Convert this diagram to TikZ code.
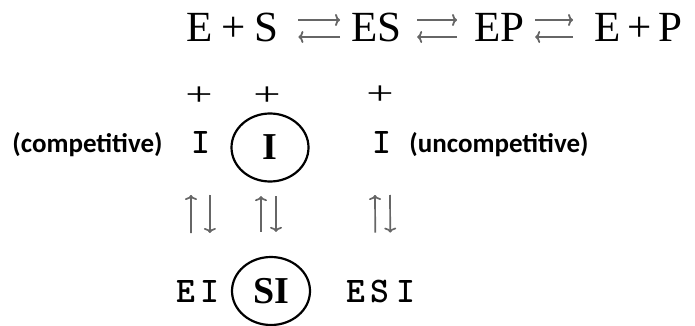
\documentclass[tikz,border=0pt]{standalone}
\usepackage{fontspec}
\newfontfamily\lblfont{Carlito}
\newfontfamily\serfont{Liberation Serif}
\usetikzlibrary{arrows.meta,shapes.geometric}
\begin{document}
\begin{tikzpicture}[x=1pt,y=-1pt,
  txt/.style={inner sep=0pt,outer sep=0pt},
  eqtxt/.style={txt,anchor=base west,font=\serfont\fontsize{43}{50}\selectfont},
  tttxt/.style={txt,font=\ttfamily\bfseries\fontsize{36}{42}\selectfont},
  lbl/.style={txt,font=\lblfont\bfseries\fontsize{27}{32}\selectfont},
  plus/.style={txt,font=\serfont\fontsize{44}{50}\selectfont},
  circ/.style={ellipse,draw,line width=2.2pt,inner sep=0pt,minimum width=77pt,minimum height=68pt,font=\serfont\bfseries\fontsize{38}{44}\selectfont},
  rarr/.style={draw=black!60,line width=1.8pt,-{To[length=5pt,width=12pt]}},
  varr/.style={draw=black!60,line width=1.7pt,-{To[length=5pt,width=12pt]}}]
\useasboundingbox (0,0) rectangle (695,326);
% top equation
\node[eqtxt] (A) at (186,42) {E\hspace{9pt}+\hspace{9pt}S};
\node[eqtxt] (B) at (351,42) {ES};
\node[eqtxt] (C) at (474,42) {EP};
\node[eqtxt] (D) at (594,42) {E\hspace{7pt}+\hspace{7pt}P};
\draw[rarr] ([shift={(20pt,22pt)}]A.base east) -- ([shift={(-11pt,22pt)}]B.base west);
\draw[rarr] ([shift={(-11pt,5pt)}]B.base west) -- ([shift={(20pt,5pt)}]A.base east);
\draw[rarr] ([shift={(16pt,22pt)}]B.base east) -- ([shift={(-17pt,22pt)}]C.base west);
\draw[rarr] ([shift={(-17pt,5pt)}]C.base west) -- ([shift={(16pt,5pt)}]B.base east);
\draw[rarr] ([shift={(11pt,22pt)}]C.base east) -- ([shift={(-21pt,22pt)}]D.base west);
\draw[rarr] ([shift={(-21pt,5pt)}]D.base west) -- ([shift={(11pt,5pt)}]C.base east);
% plus signs
\node[plus] (p1) at (199,96) {\scalebox{1.1}[0.75]{+}};
\node[plus] (p2) at (267,96) {\scalebox{1.1}[0.75]{+}};
\node[plus] (p3) at (380,95) {\scalebox{1.1}[0.75]{+}};
% inhibitor row
\node[lbl] (comp) at (87.5,145) {(competitive)};
\node[tttxt,anchor=base] (it1) at (201,153) {I};
\node[circ] (ci) at (270,147.5) {I};
\node[tttxt,anchor=base] (it2) at (382,153) {I};
\node[lbl] (uncomp) at (499,145) {(uncompetitive)};
% complexes
\node[tttxt,anchor=base west] (ei) at (176,302) {E\hspace{6pt}I};
\node[circ,minimum width=78pt] (si) at (271,291) {SI};
\node[tttxt,anchor=base west] (esi) at (346,302) {E\hspace{6pt}S\hspace{6.5pt}I};
% vertical equilibria
\draw[varr] ([xshift=-7pt,yshift=47pt]ei.north) -- ([xshift=-10pt,yshift=-42pt]it1.south);
\draw[varr] ([xshift=9pt,yshift=-42pt]it1.south) -- ([xshift=12pt,yshift=47pt]ei.north);
\draw[varr] ([xshift=-10pt,yshift=24pt]si.north) -- ([xshift=-9pt,yshift=-13.5pt]ci.south);
\draw[varr] ([xshift=6pt,yshift=-13.5pt]ci.south) -- ([xshift=5pt,yshift=24pt]si.north);
\draw[varr] ([xshift=-5.35pt,yshift=47pt]esi.north) -- ([xshift=-7pt,yshift=-42pt]it2.south);
\draw[varr] ([xshift=8pt,yshift=-42pt]it2.south) -- ([xshift=9.65pt,yshift=47pt]esi.north);
\end{tikzpicture}
\end{document}
